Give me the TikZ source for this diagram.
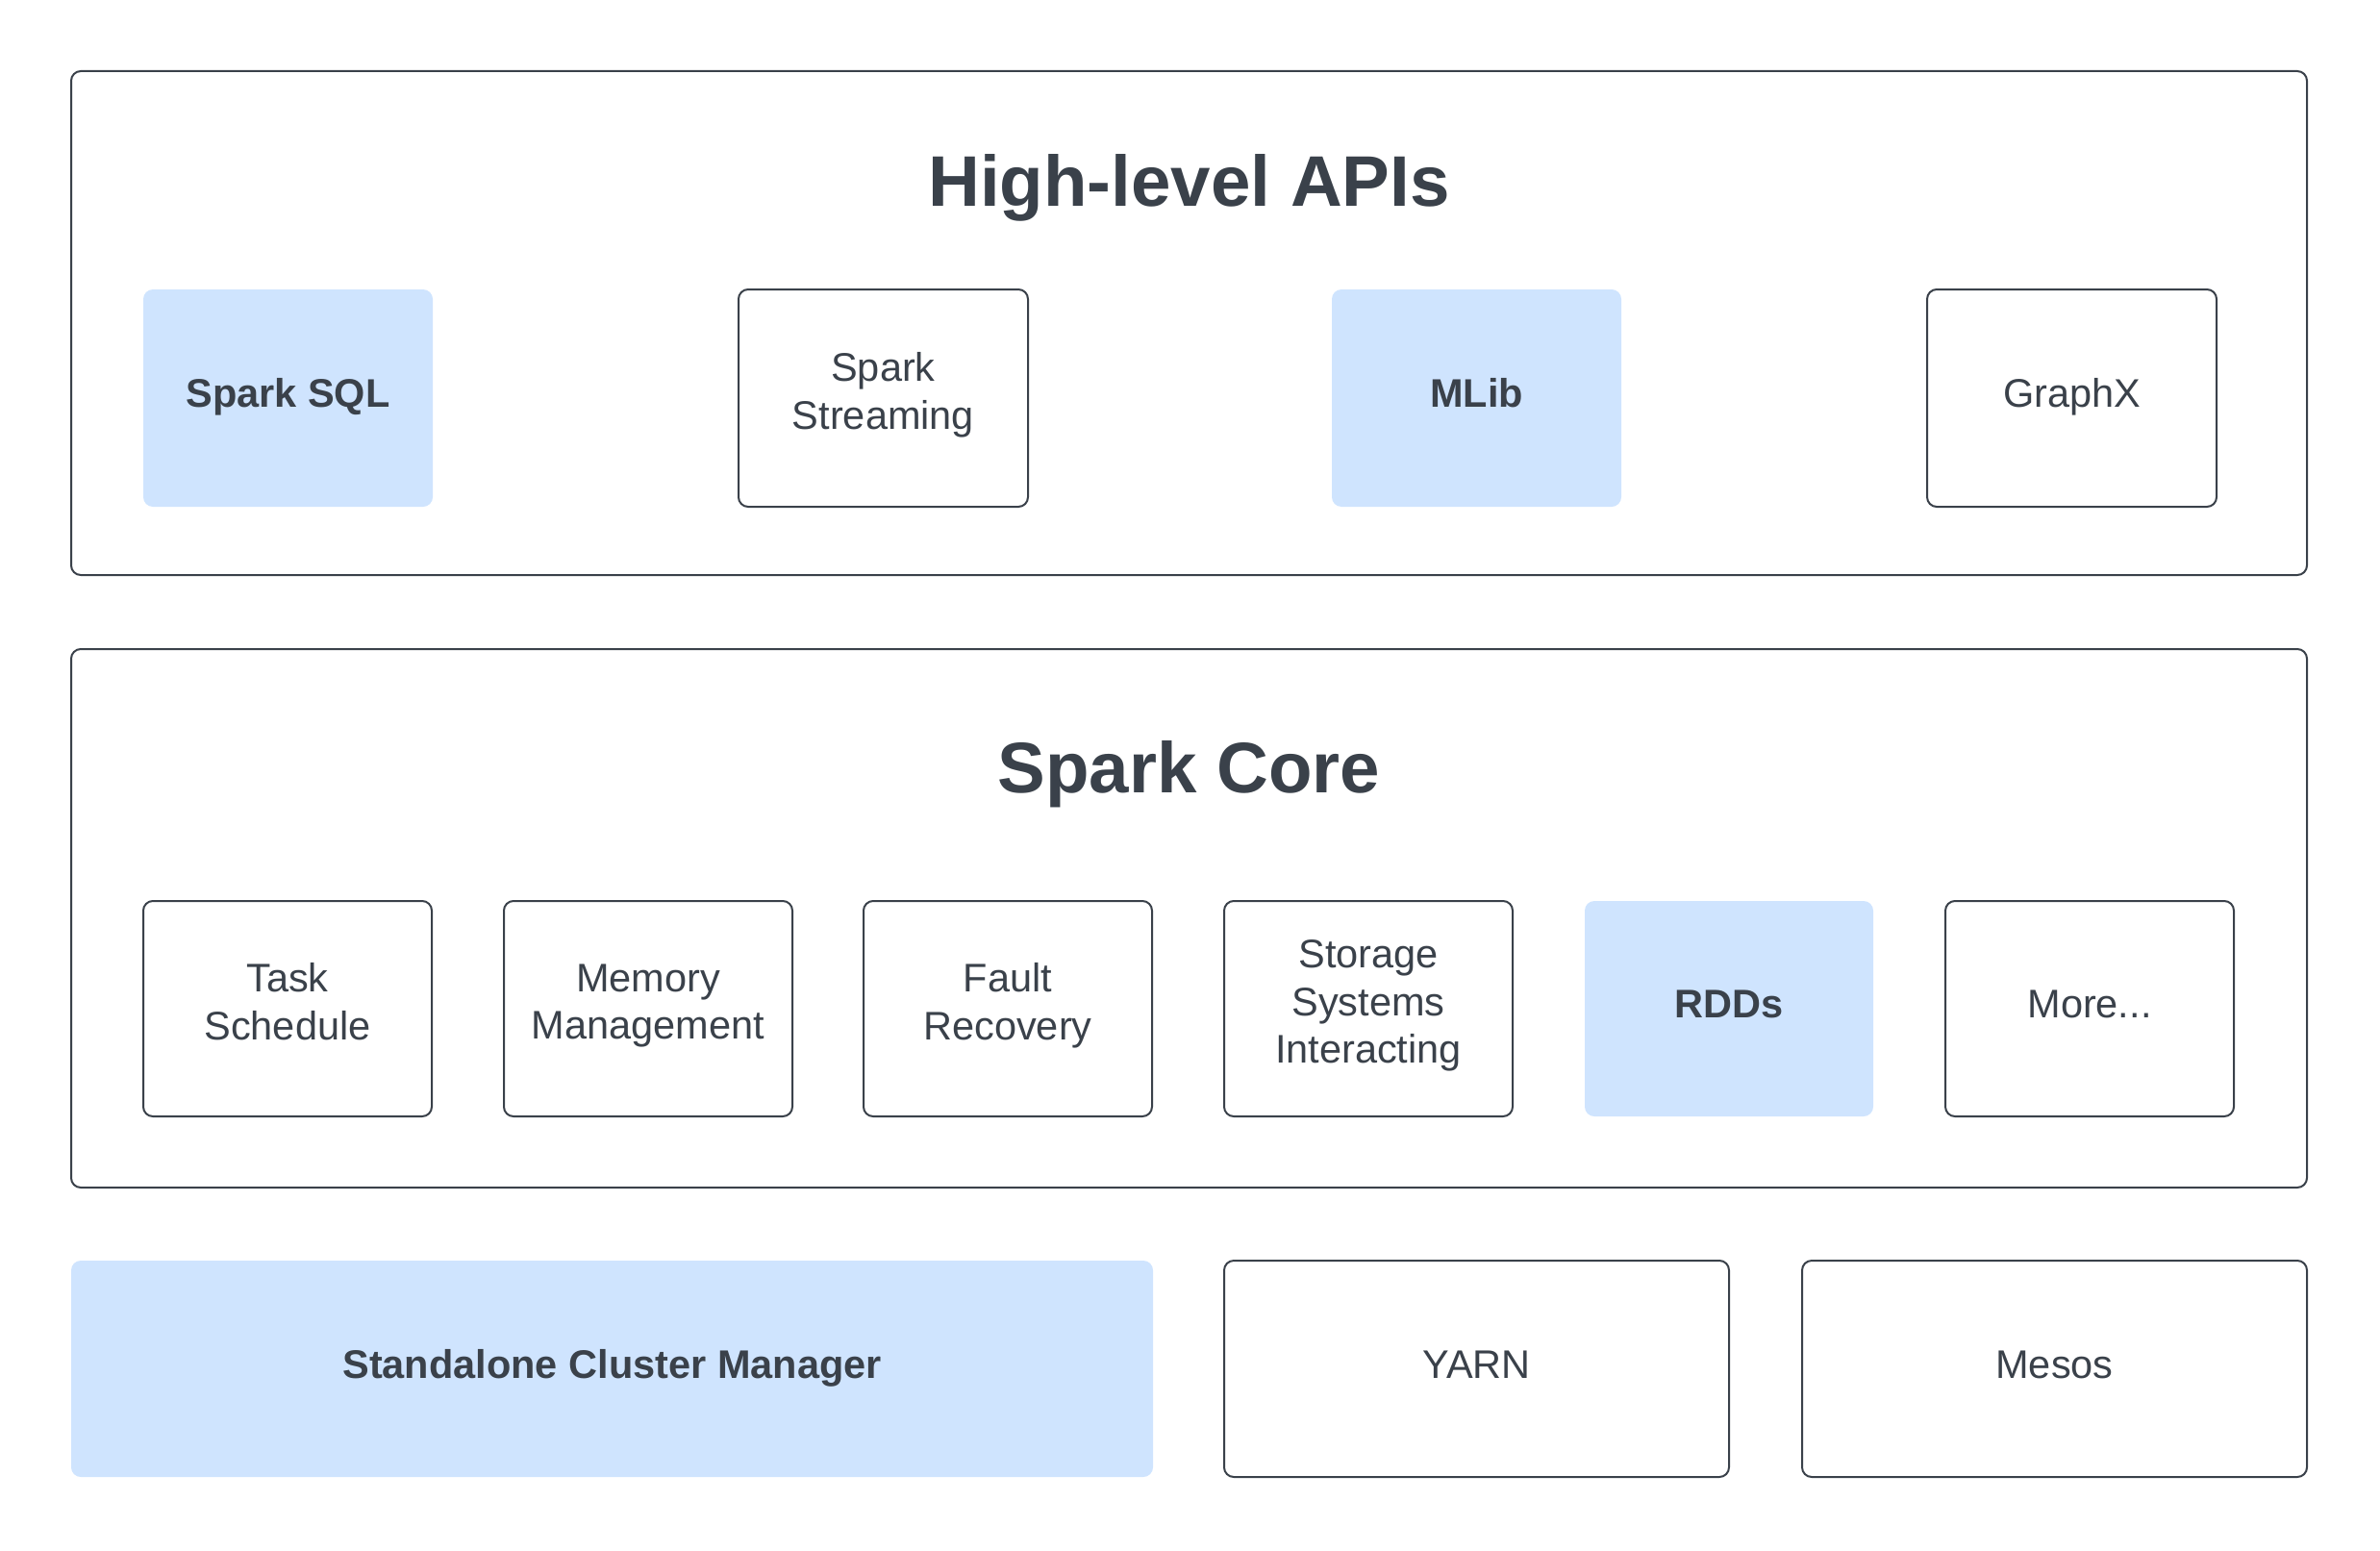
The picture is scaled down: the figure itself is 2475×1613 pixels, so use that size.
\documentclass[tikz,border=0pt]{standalone}
\usepackage{fontspec}
\setmainfont{Liberation Sans}
\definecolor{ink}{HTML}{3A414A}
\definecolor{paleblue}{HTML}{CFE4FE}
\begin{document}
\begin{tikzpicture}
  [x=1pt,y=-1pt,
   every node/.style={text=ink,font=\fontsize{41.5}{49.5}\selectfont,align=center,inner sep=0pt},
   layer/.style={draw=ink,line width=2pt,rounded corners=10pt,minimum width=2325pt},
   part/.style={draw=ink,line width=2pt,rounded corners=10pt,minimum width=300pt,minimum height=224pt,
     execute at begin node=\strut,execute at end node=\strut},
   hot/.style={draw=none,fill=paleblue,font=\fontsize{41.5}{49.5}\selectfont\bfseries},
   heading/.style={anchor=base,font=\fontsize{74.5}{88}\selectfont\bfseries}]
  \useasboundingbox (0,0) rectangle (2475,1613);
  % layers
  \node[layer,minimum height=524pt] (apis) at (1236.5,336) {};
  \node[layer,minimum height=560pt] (core) at (1236.5,955) {};
  \node[heading] (apistitle) at (1236.5,215) {High-level APIs};
  \node[heading] (coretitle) at (1236.5,824) {Spark Core};
  % high-level apis
  \node[part,hot,minimum width=301pt,minimum height=226pt] (sql) at (299.5,414) {Spark SQL};
  \node[part,minimum width=301pt,minimum height=226pt] (streaming) at (918.5,414) {Spark\\Streaming};
  \node[part,hot,minimum width=301pt,minimum height=226pt] (mlib) at (1535.5,414) {MLib};
  \node[part,minimum width=301pt,minimum height=226pt] (graphx) at (2154.5,414) {GraphX};
  % core parts
  \node[part] (task) at (299,1049) {Task\\Schedule};
  \node[part] (memory) at (674,1049) {Memory\\Management};
  \node[part] (fault) at (1048,1049) {Fault\\Recovery};
  \node[part] (storage) at (1423,1049) {Storage\\Systems\\Interacting};
  \node[part,hot] (rdds) at (1798,1049) {RDDs};
  \node[part] (more) at (2173,1049) {More...};
  % cluster managers
  \node[part,hot,minimum width=1125pt,minimum height=225pt] (standalone) at (636.5,1423.5) {Standalone Cluster Manager};
  \node[part,minimum width=525pt,minimum height=225pt] (yarn) at (1535.5,1423.5) {YARN};
  \node[part,minimum width=525pt,minimum height=225pt] (mesos) at (2136.5,1423.5) {Mesos};
\end{tikzpicture}
\end{document}
